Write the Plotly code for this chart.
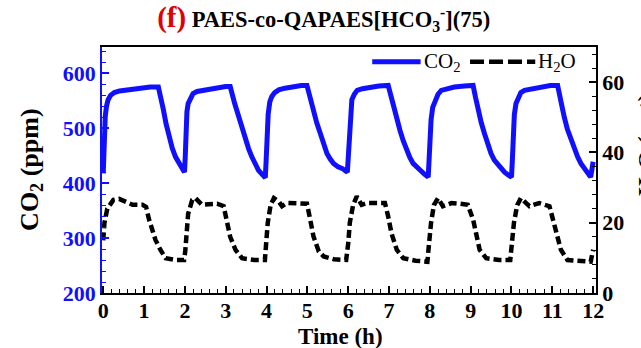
import plotly.graph_objects as go

# CO2 concentration trace (ppm) over time (h)
t_co2 = [0.00, 0.01, 0.03, 0.05, 0.08, 0.12, 0.18, 0.27, 0.40, 0.60, 0.80, 1.00, 1.15, 1.35,
         1.40, 1.47, 1.54, 1.61, 1.69, 1.77, 1.85, 1.93, 1.99,
         2.01, 2.03, 2.05, 2.08, 2.13, 2.20, 2.30, 2.45, 2.65, 2.85, 3.00, 3.11,
         3.16, 3.22, 3.32, 3.40, 3.48, 3.56, 3.64, 3.72, 3.80, 3.88, 3.97,
         3.99, 4.01, 4.04, 4.08, 4.13, 4.20, 4.30, 4.45, 4.65, 4.85, 4.99,
         5.05, 5.10, 5.15, 5.23, 5.32, 5.40, 5.48, 5.56, 5.64, 5.75, 5.85, 5.98,
         6.00, 6.02, 6.05, 6.09, 6.15, 6.22, 6.35, 6.55, 6.75, 6.98,
         7.04, 7.11, 7.19, 7.27, 7.35, 7.43, 7.51, 7.59, 7.67, 7.76, 7.86, 7.96,
         7.98, 8.00, 8.03, 8.07, 8.12, 8.20, 8.28, 8.40, 8.60, 8.85, 9.06,
         9.12, 9.18, 9.26, 9.34, 9.42, 9.50, 9.58, 9.67, 9.75, 9.83, 9.92, 10.00,
         10.02, 10.04, 10.07, 10.11, 10.16, 10.23, 10.32, 10.50, 10.75, 10.95, 11.13,
         11.20, 11.29, 11.37, 11.46, 11.54, 11.62, 11.70, 11.78, 11.86, 11.94, 12.00]
co2 = [418, 450, 495, 522, 540, 552, 560, 565, 568, 570, 571, 573, 575, 575,
       560, 535, 508, 484, 464, 448, 436, 427, 420,
       450, 500, 530, 545, 555, 563, 567, 569, 571, 575, 576, 576,
       565, 545, 521, 500, 481, 463, 448, 435, 424, 417, 410,
       440, 480, 525, 548, 558, 565, 570, 573, 576, 578, 578,
       560, 547, 533, 510, 490, 470, 454, 444, 436, 430, 427, 420,
       450, 490, 535, 552, 562, 569, 572, 575, 577, 578,
       560, 539, 516, 496, 477, 460, 447, 436, 429, 424, 417, 411,
       440, 480, 515, 538, 550, 562, 569, 572, 575, 577, 578,
       556, 533, 510, 490, 470, 454, 442, 433, 426, 420, 415, 411,
       440, 485, 525, 545, 556, 565, 569, 572, 576, 578, 578,
       550, 521, 498, 478, 461, 448, 436, 427, 418, 411, 439]

# H2O concentration trace (right axis) over time (h)
t_h2o = [0.00, 0.03, 0.10, 0.25, 0.39, 0.55, 0.72, 0.96, 1.05, 1.12, 1.20, 1.28, 1.40, 1.53, 1.77, 1.98,
         2.01, 2.04, 2.08, 2.18, 2.26, 2.42, 2.60, 2.79, 2.95, 3.03, 3.11, 3.24, 3.40, 3.70, 3.96,
         3.99, 4.03, 4.10, 4.18, 4.30, 4.38, 4.50, 4.75, 4.99, 5.07, 5.15, 5.28, 5.40, 5.65, 5.95,
         6.00, 6.04, 6.12, 6.21, 6.33, 6.46, 6.70, 6.90, 6.98, 7.06, 7.19, 7.35, 7.65, 7.94,
         7.98, 8.03, 8.10, 8.20, 8.32, 8.53, 8.75, 8.93, 9.06, 9.14, 9.22, 9.38, 9.70, 9.97,
         10.01, 10.06, 10.14, 10.23, 10.44, 10.68, 10.93, 11.00, 11.09, 11.21, 11.37, 11.70, 11.94, 12.00]
h2o = [15, 20, 24, 26.5, 26.8, 25.8, 25.1, 25.1, 24.5, 21, 18, 15.1, 12.3, 9.9, 9.4, 9.4,
       12, 18, 22.5, 26.5, 27, 25.1, 25.3, 25.4, 24.7, 20.9, 16, 12.3, 9.9, 9.4, 9.4,
       14, 20, 25, 27, 26, 24.7, 25.6, 25.5, 25.4, 20.9, 16.1, 11.8, 10.4, 9.6, 9.4,
       14, 20, 25, 27.5, 25.1, 25.6, 25.6, 25.6, 21.8, 17, 12.3, 9.9, 9.2, 8.9,
       14, 20, 25, 27, 24.7, 25.6, 25.4, 25.1, 20.9, 16, 12.3, 9.9, 9.4, 9.4,
       14, 20, 25, 27, 24.7, 25.6, 24.7, 21.8, 17, 12.3, 9.4, 9.0, 8.9, 12.3]

x_ticks = list(range(0, 13))

FONT = "Liberation Serif"
BLUE = "#1010ff"
CO2_NAME = "CO<sub>2</sub>"
H2O_NAME = "H<sub>2</sub>O"

fig = go.Figure()
fig.add_trace(go.Scatter(
    x=t_co2, y=co2, mode="lines", name=CO2_NAME, showlegend=False,
    line=dict(color=BLUE, width=5),
))
fig.add_trace(go.Scatter(
    x=t_h2o, y=h2o, mode="lines", name=H2O_NAME, yaxis="y2", showlegend=False,
    line=dict(color="black", width=4.5, dash="8px,4px"),
))

fig.update_layout(
    width=641, height=348,
    margin=dict(l=102, r=45, t=47, b=55),
    paper_bgcolor="white", plot_bgcolor="white",
    font=dict(family=FONT, color="black", size=22),
    title=dict(
        text='<span style="color:#e00000;font-size:29px"><b>(f)</b></span> '
             '<b>PAES-co-QAPAES[HCO<sub>3</sub><sup>-</sup>](75)</b>',
        x=0.505, xref="container", xanchor="center",
        y=0.945, yref="container", yanchor="middle",
        font=dict(family=FONT, size=22.5, color="black"),
    ),
    xaxis=dict(
        range=[-0.03, 12.07], tickvals=x_ticks, ticktext=[str(v) for v in x_ticks],
        ticks="inside", ticklen=7, tickwidth=1.5, tickcolor="black",
        showline=True, linecolor="black", linewidth=1.5, mirror=True,
        showgrid=False, zeroline=False, ticklabelstandoff=-3, automargin=False,
        minor=dict(dtick=0.2, ticks="inside", ticklen=4, tickcolor="black", tickwidth=1.2),
        tickfont=dict(family=FONT, size=22, color="black", weight="bold"),
    ),
    yaxis=dict(
        range=[200, 648], tick0=200, dtick=100,
        ticks="inside", ticklen=7, tickwidth=1.5, tickcolor=BLUE,
        showline=True, linecolor=BLUE, linewidth=1.5, automargin=False,
        showgrid=False, zeroline=False,
        minor=dict(dtick=20, ticks="inside", ticklen=4, tickcolor=BLUE, tickwidth=1.2),
        tickfont=dict(family=FONT, size=22, color=BLUE, weight="bold"),
    ),
    yaxis2=dict(
        overlaying="y", side="right", range=[0, 70], tick0=0, dtick=20,
        ticks="inside", ticklen=7, tickwidth=1.5, tickcolor="black",
        showline=True, linecolor="black", linewidth=1.5, automargin=False,
        showgrid=False, zeroline=False,
        minor=dict(dtick=4, ticks="inside", ticklen=4, tickcolor="black", tickwidth=1.2),
        tickfont=dict(family=FONT, size=22, color="black", weight="bold"),
    ),
)

# Axis titles
fig.add_annotation(
    text="<b>Time (h)</b>", xref="paper", yref="paper", x=0.483, y=-0.178,
    xanchor="center", yanchor="middle", showarrow=False,
    font=dict(family=FONT, size=23, color="black"),
)
fig.add_annotation(
    text="<b>CO<sub>2</sub> (ppm)</b>", textangle=-90,
    xref="paper", yref="paper", x=-0.144, y=0.504,
    xanchor="center", yanchor="middle", showarrow=False,
    font=dict(family=FONT, size=26, color="black"),
)
# Right-axis title sits at the page edge
fig.add_annotation(
    text="<b>H<sub>2</sub>O (ppt)</b>", textangle=-90,
    xref="paper", yref="paper", x=1.072, y=0.6, xanchor="left", yanchor="middle",
    showarrow=False, font=dict(family=FONT, size=24, color="black"),
)

# Key in the upper right corner of the plot: line samples plus labels
KEY_Y = 0.94
fig.add_shape(type="line", xref="paper", yref="paper", x0=0.547, x1=0.645, y0=KEY_Y, y1=KEY_Y,
              line=dict(color=BLUE, width=5))
fig.add_shape(type="line", xref="paper", yref="paper", x0=0.745, x1=0.877, y0=KEY_Y, y1=KEY_Y,
              line=dict(color="black", width=4.5, dash="14px,5px"))
fig.add_annotation(text=CO2_NAME, xref="paper", yref="paper", x=0.647, y=KEY_Y,
                   xanchor="left", yanchor="middle", showarrow=False,
                   font=dict(family=FONT, size=21, color="black"))
fig.add_annotation(text=H2O_NAME, xref="paper", yref="paper", x=0.879, y=KEY_Y,
                   xanchor="left", yanchor="middle", showarrow=False,
                   font=dict(family=FONT, size=21, color="black"))

fig.write_html("out.html")
